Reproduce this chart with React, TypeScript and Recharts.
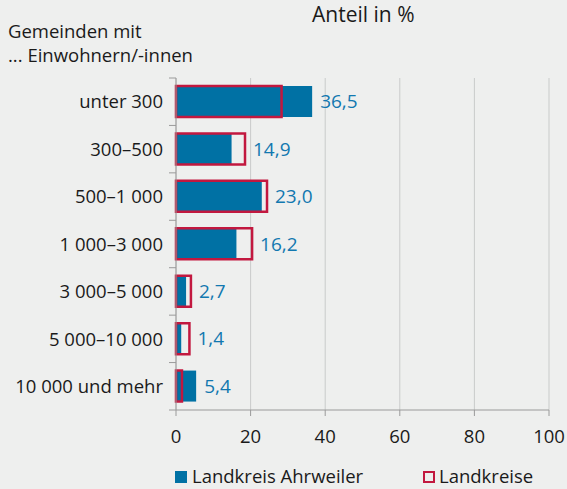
import React from 'react';
import { BarChart, Bar, XAxis, YAxis, CartesianGrid, LabelList } from 'recharts';

const categories = ['unter 300', '300–500', '500–1 000', '1 000–3 000', '3 000–5 000', '5 000–10 000', '10 000 und mehr'];
const ahrweiler = [36.5, 14.9, 23.0, 16.2, 2.7, 1.4, 5.4];
const landkreise = [28.3, 18.5, 24.4, 20.4, 4.0, 3.6, 1.6];
const xTicks = [0, 20, 40, 60, 80, 100];
const seriesNames = ['Landkreis Ahrweiler', 'Landkreise'];
const headerLeft = ['Gemeinden mit', '... Einwohnern/-innen'];
const headerRight = 'Anteil in %';

const data = categories.map((c, i) => ({ cat: c, a: ahrweiler[i], b: landkreise[i] }));

const W = 567;
const H = 489;
const M = { top: 78, right: 18, left: 6, bottom: 49 };
const X_AXIS_H = 30;
const PLOT_H = H - M.top - M.bottom - X_AXIS_H;
const BAND = PLOT_H / categories.length;
const BLUE = '#0071a4';
const LABEL_BLUE = '#1278b0';
const RED = '#c2183f';
const AXIS = '#9a9a9a';
const GRID = '#c9cbca';
const TEXT = '#1a1a1a';
const FONT = '"Open Sans", "Noto Sans", sans-serif';
const TICK_MARGIN = 13;
const FS = 18.5;

const fmt = (v: number) => v.toFixed(1).replace('.', ',');

const YTick = (props: any) => {
  const { x, y, payload, index } = props;
  const ax = x + TICK_MARGIN;
  const half = BAND / 2;
  return (
    <g>
      <text x={x} y={y} dy="0.36em" textAnchor="end" fill={TEXT} fontSize={FS} fontFamily={FONT}>
        {payload.value}
      </text>
      <line x1={ax - 7} x2={ax} y1={y - half} y2={y - half} stroke={AXIS} strokeWidth={1} />
      {index === categories.length - 1 && (
        <line x1={ax - 7} x2={ax} y1={y + half} y2={y + half} stroke={AXIS} strokeWidth={1} />
      )}
    </g>
  );
};

const ValueLabel = (props: any) => {
  const { x, y, width, height, index } = props;
  const a = ahrweiler[index];
  const b = landkreise[index];
  const end = x + (width * Math.max(a, b)) / a;
  return (
    <text x={end + 8} y={y + height / 2} dy="0.36em" fill={LABEL_BLUE} fontSize={19} fontFamily={FONT}>
      {fmt(a)}
    </text>
  );
};

const textStyle = (top: number, left: number, size: number): React.CSSProperties => ({
  position: 'absolute',
  top,
  left,
  fontSize: size,
  lineHeight: `${size}px`,
  color: TEXT,
  whiteSpace: 'nowrap',
});

export default function App() {
  return (
    <div style={{ position: 'fixed', left: 0, top: 0, width: W, height: H, background: '#eeefee', fontFamily: FONT }}>
      {headerLeft.map((t, i) => (
        <div key={t} style={textStyle(22 + i * 24, 8, FS)}>
          {t}
        </div>
      ))}
      <div style={textStyle(4, 312, 21)}>{headerRight}</div>
      <BarChart width={W} height={H} data={data} layout="vertical" margin={M} barCategoryGap={0}>
        <CartesianGrid horizontal={false} vertical stroke={GRID} xAxisId={0} yAxisId="a" />
        <XAxis
          type="number"
          domain={[0, 100]}
          ticks={xTicks}
          height={X_AXIS_H}
          axisLine={{ stroke: AXIS }}
          tickLine={{ stroke: AXIS }}
          tickSize={6}
          tickMargin={14}
          tick={{ fill: TEXT, fontSize: 18.5, fontFamily: FONT }}
          interval={0}
        />
        <XAxis
          xAxisId="top"
          type="number"
          orientation="top"
          domain={[0, 100]}
          height={0}
          tick={false}
          tickLine={false}
          axisLine={{ stroke: GRID }}
        />
        <YAxis
          yAxisId="a"
          type="category"
          dataKey="cat"
          width={170}
          axisLine={{ stroke: AXIS }}
          tickLine={false}
          tickSize={0}
          tickMargin={TICK_MARGIN}
          tick={<YTick />}
          interval={0}
        />
        <YAxis yAxisId="b" type="category" dataKey="cat" hide />
        <Bar yAxisId="a" dataKey="a" name={seriesNames[0]} fill={BLUE} barSize={31} isAnimationActive={false}>
          <LabelList dataKey="a" content={<ValueLabel />} />
        </Bar>
        <Bar
          yAxisId="b"
          dataKey="b"
          name={seriesNames[1]}
          fill="none"
          stroke={RED}
          strokeWidth={2.5}
          barSize={31}
          isAnimationActive={false}
        />
      </BarChart>
      <div style={{ position: 'absolute', left: 175, top: 471, width: 12, height: 12, background: BLUE }} />
      <div style={textStyle(467, 192, FS)}>{seriesNames[0]}</div>
      <div style={{ position: 'absolute', left: 423, top: 471, width: 8, height: 8, border: `2px solid ${RED}` }} />
      <div style={textStyle(467, 439, FS)}>{seriesNames[1]}</div>
    </div>
  );
}
